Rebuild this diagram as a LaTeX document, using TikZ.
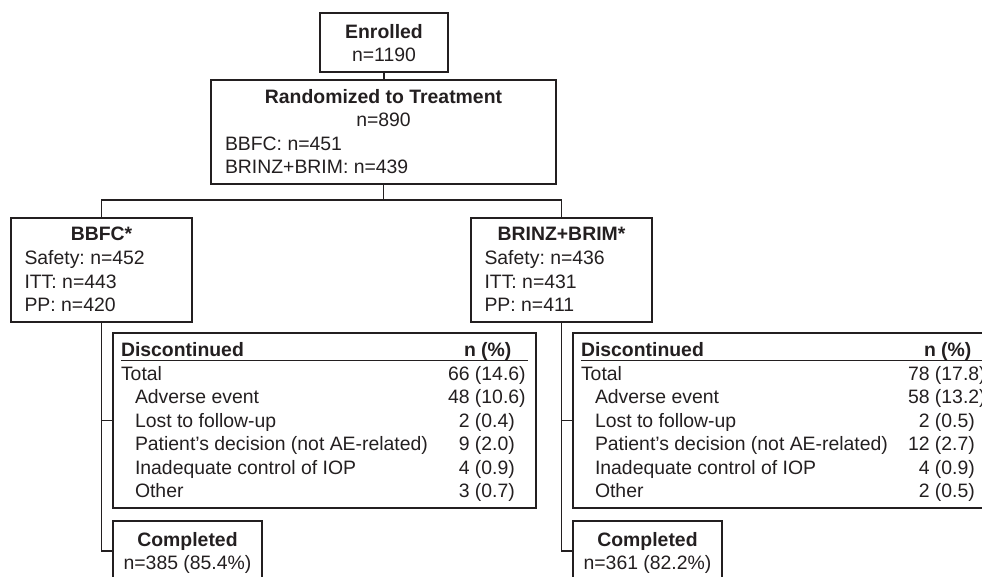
\documentclass[tikz,border=0pt]{standalone}
\usepackage{fontspec}
\setmainfont{Liberation Sans}
\frenchspacing
\definecolor{ink}{RGB}{35,31,32}
\begin{document}
\begin{tikzpicture}[x=1pt,y=-1pt,
  every node/.style={font=\fontsize{19.4pt}{23.5pt}\selectfont\frenchspacing, text=ink, inner sep=0pt, outer sep=0pt},
  box/.style={draw=ink, line width=1.5pt, rectangle, anchor=north west},
  conn/.style={draw=ink, line width=1.5pt},
  rule/.style={draw=ink, line width=1.3pt},
  tc/.style={anchor=base},
  tl/.style={anchor=base west}]
\useasboundingbox (0,0) rectangle (982,577);
\clip (0,0) rectangle (982,577);

% boxes
\node[box, minimum width=128pt, minimum height=59pt] (enr) at (320,13) {};
\node[box, minimum width=345pt, minimum height=104pt] (rand) at (211,80) {};
\node[box, minimum width=181pt, minimum height=104pt] (bbfc) at (11,218) {};
\node[box, minimum width=181pt, minimum height=104pt] (brinz) at (471,218) {};
\node[box, minimum width=423pt, minimum height=175pt] (discL) at (113,333) {};
\node[box, minimum width=423pt, minimum height=175pt] (discR) at (573,333) {};
\node[box, minimum width=149pt, minimum height=60pt] (compL) at (113,521) {};
\node[box, minimum width=149pt, minimum height=60pt] (compR) at (573,521) {};

% enrolled
\node[tc] (enrT) at (384,38.5) {\bfseries Enrolled};
\node[tc] (enrN) at (384,62) {n=1190};
% randomized
\node[tc] (randT) at (383.5,103.5) {\bfseries Randomized to Treatment};
\node[tc] (randN) at (383.5,127) {n=890};
\node[tl] (randA) at (225,150.5) {BBFC: n=451};
\node[tl] (randB) at (225,174) {BRINZ+BRIM: n=439};
% arms
\node[tc] (bbfcT) at (101.5,241) {\bfseries BBFC*};
\node[tl] (bbfcS) at (24.5,264.5) {Safety: n=452};
\node[tl] (bbfcI) at (24.5,288) {ITT: n=443};
\node[tl] (bbfcP) at (24.5,311.5) {PP: n=420};
\node[tc] (brinzT) at (561.5,241) {\bfseries BRINZ+BRIM*};
\node[tl] (brinzS) at (484.5,264.5) {Safety: n=436};
\node[tl] (brinzI) at (484.5,288) {ITT: n=431};
\node[tl] (brinzP) at (484.5,311.5) {PP: n=411};

% left discontinued table
\node[tl] (dLh) at (121,356) {\bfseries Discontinued};
\node[tl] (dLn) at (464,356) {\bfseries n (\%)};
\draw[rule] (121,360.5) -- (528,360.5);
\node[tl] (dL1) at (121,380) {Total};
\node[tl] (dL2) at (135,403.5) {Adverse event};
\node[tl] (dL3) at (135,427) {Lost to follow-up};
\node[tl] (dL4) at (135,450.5) {Patient’s decision (not AE-related)};
\node[tl] (dL5) at (135,474) {Inadequate control of IOP};
\node[tl] (dL6) at (135,497.5) {Other};
\node[tl] (vL1) at (475,380) {\llap{66 }(14.6)};
\node[tl] (vL2) at (475,403.5) {\llap{48 }(10.6)};
\node[tl] (vL3) at (475,427) {\llap{2 }(0.4)};
\node[tl] (vL4) at (475,450.5) {\llap{9 }(2.0)};
\node[tl] (vL5) at (475,474) {\llap{4 }(0.9)};
\node[tl] (vL6) at (475,497.5) {\llap{3 }(0.7)};

% right discontinued table
\node[tl] (dRh) at (581,356) {\bfseries Discontinued};
\node[tl] (dRn) at (924,356) {\bfseries n (\%)};
\draw[rule] (581,360.5) -- (988,360.5);
\node[tl] (dR1) at (581,380) {Total};
\node[tl] (dR2) at (595,403.5) {Adverse event};
\node[tl] (dR3) at (595,427) {Lost to follow-up};
\node[tl] (dR4) at (595,450.5) {Patient’s decision (not AE-related)};
\node[tl] (dR5) at (595,474) {Inadequate control of IOP};
\node[tl] (dR6) at (595,497.5) {Other};
\node[tl] (vR1) at (935,380) {\llap{78 }(17.8)};
\node[tl] (vR2) at (935,403.5) {\llap{58 }(13.2)};
\node[tl] (vR3) at (935,427) {\llap{2 }(0.5)};
\node[tl] (vR4) at (935,450.5) {\llap{12 }(2.7)};
\node[tl] (vR5) at (935,474) {\llap{4 }(0.9)};
\node[tl] (vR6) at (935,497.5) {\llap{2 }(0.5)};

% completed
\node[tc] (cLT) at (187.5,546) {\bfseries Completed};
\node[tc] (cLN) at (187.5,569.5) {n=385 (85.4\%)};
\node[tc] (cRT) at (647.5,546) {\bfseries Completed};
\node[tc] (cRN) at (647.5,569.5) {n=361 (82.2\%)};

% connectors
\coordinate (split) at (383,200);
\draw[conn] (enr.south) -- (enr.south |- rand.north);
\draw[conn] (rand.south) -- (rand.south |- split);
\draw[conn] (bbfc.north) -- (bbfc.north |- split) -- (brinz.north |- split) -- (brinz.north);
\draw[conn] (bbfc.south) -- (bbfc.south |- compL.west) -- (compL.west);
\draw[conn] (bbfc.south |- discL.west) -- (discL.west);
\draw[conn] (brinz.south) -- (brinz.south |- compR.west) -- (compR.west);
\draw[conn] (brinz.south |- discR.west) -- (discR.west);
\end{tikzpicture}
\end{document}
